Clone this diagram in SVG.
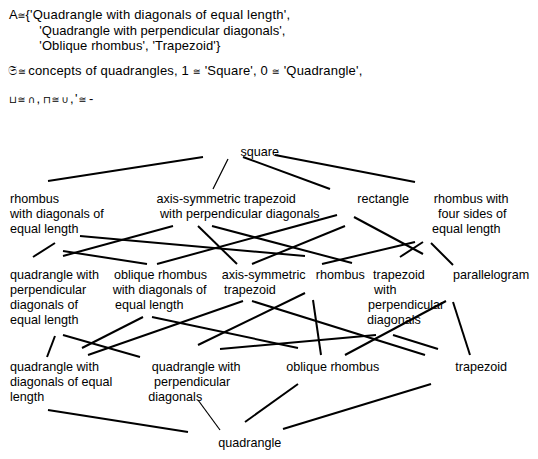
<svg xmlns="http://www.w3.org/2000/svg" width="538" height="459" viewBox="0 0 538 459">
<style>
text{font-family:"Liberation Sans",Arial,"DejaVu Sans",sans-serif;font-size:12.6px;fill:#000}
#header text{font-size:13px}
#header .s{font-family:"DejaVu Sans","Liberation Sans",sans-serif;font-size:10px}
#header .f{font-family:"DejaVu Sans","Liberation Sans",sans-serif;font-size:12.5px}
#header .e{font-family:"DejaVu Sans","Liberation Sans",sans-serif;font-size:9.5px}
.c line{stroke:#000;stroke-width:2;stroke-linecap:butt}
.c line.th{stroke-width:1.2}
</style>
<rect width="538" height="459" fill="#fff"/>
<g id="header">
<text x="9" y="19">A</text><text class="e" x="17.5" y="19">≅</text><text x="25.5" y="19" textLength="264.5">{'Quadrangle with diagonals of equal length',</text>
<text x="39.3" y="34.5" textLength="246">'Quadrangle with perpendicular diagonals',</text>
<text x="39.3" y="49.5" textLength="181">'Oblique rhombus', 'Trapezoid'}</text>
<text class="f" x="8" y="75">𝔖</text><text class="e" x="18" y="75">≅</text><text x="28.3" y="75" textLength="334">concepts of quadrangles, 1 <tspan class="e">≅</tspan> 'Square', 0 <tspan class="e">≅</tspan> 'Quadrangle',</text>
<text class="s" x="9" y="103">⊔</text><text class="e" x="17.5" y="103">≅</text><text class="s" x="28" y="103">∩</text><text x="36.5" y="103">,</text><text class="s" x="43" y="103">⊓</text><text class="e" x="51.5" y="103">≅</text><text class="s" x="61.5" y="103">∪</text><text x="70" y="103">,</text><text x="75" y="103">'</text><text class="e" x="78.5" y="103">≅</text><text x="89" y="103">-</text>
</g>
<g id="connectors" class="c">
<line x1="203" y1="157" x2="48" y2="181"/>
<line class="th" x1="228" y1="159" x2="213" y2="189"/>
<line x1="243" y1="157" x2="330" y2="189"/>
<line x1="275" y1="155" x2="415" y2="182"/>
<line x1="80" y1="236" x2="305" y2="256"/>
<line x1="33" y1="257" x2="55" y2="243"/>
<line x1="63" y1="251" x2="147" y2="264"/>
<line x1="63" y1="256" x2="173" y2="226"/>
<line x1="157" y1="264" x2="337" y2="215"/>
<line x1="198" y1="226" x2="237" y2="264"/>
<line x1="212" y1="226" x2="352" y2="263"/>
<line x1="252" y1="264" x2="345" y2="226"/>
<line x1="354" y1="217" x2="423" y2="254"/>
<line x1="322" y1="264" x2="415" y2="242"/>
<line x1="400" y1="257" x2="423" y2="242"/>
<line x1="431" y1="243" x2="453" y2="265"/>
<line x1="55" y1="336" x2="47" y2="357"/>
<line x1="63" y1="335" x2="140" y2="357"/>
<line x1="82" y1="348" x2="143" y2="317"/>
<line x1="88" y1="355" x2="243" y2="301"/>
<line x1="152" y1="317" x2="298" y2="348"/>
<line x1="198" y1="345" x2="305" y2="293"/>
<line x1="220" y1="349" x2="376" y2="335"/>
<line x1="252" y1="301" x2="425" y2="355"/>
<line x1="313" y1="300" x2="321" y2="355"/>
<line x1="345" y1="355" x2="446" y2="301"/>
<line x1="393" y1="335" x2="438" y2="349"/>
<line x1="453" y1="302" x2="470" y2="355"/>
<line x1="48" y1="410" x2="188" y2="432"/>
<line class="th" x1="198" y1="400" x2="220" y2="430"/>
<line x1="245" y1="422" x2="298" y2="384"/>
<line x1="283" y1="429" x2="431" y2="384"/>
</g>
<g id="n-square"><text x="240.5" y="156">square</text></g>
<g id="n-rhombus-diag"><text x="10" y="203">rhombus</text><text x="10" y="218">with diagonals of</text><text x="10" y="233">equal length</text></g>
<g id="n-axis-perp"><text x="156.5" y="203">axis-symmetric trapezoid</text><text x="160" y="218">with perpendicular diagonals</text></g>
<g id="n-rectangle"><text x="357.3" y="203">rectangle</text></g>
<g id="n-rhombus-four"><text x="433.7" y="203">rhombus with</text><text x="438" y="218">four sides of</text><text x="432" y="233">equal length</text></g>
<g id="n-quad-perp-eq"><text x="10" y="279">quadrangle with</text><text x="10" y="294">perpendicular</text><text x="10" y="309">diagonals of</text><text x="10" y="324">equal length</text></g>
<g id="n-oblique-diag"><text x="114" y="279">oblique rhombus</text><text x="112.7" y="294">with diagonals of</text><text x="115" y="309">equal length</text></g>
<g id="n-axis"><text x="221.7" y="279">axis-symmetric</text><text x="224" y="294">trapezoid</text></g>
<g id="n-rhombus"><text x="315.7" y="279">rhombus</text></g>
<g id="n-trap-perp"><text x="373" y="279">trapezoid</text><text x="374" y="294">with</text><text x="368" y="309">perpendicular</text><text x="367" y="324">diagonals</text></g>
<g id="n-parallelogram"><text x="453" y="279">parallelogram</text></g>
<g id="n-quad-diag"><text x="10" y="371">quadrangle with</text><text x="10" y="386">diagonals of equal</text><text x="10" y="401">length</text></g>
<g id="n-quad-perp"><text x="151.7" y="371">quadrangle with</text><text x="154" y="386">perpendicular</text><text x="148.3" y="401">diagonals</text></g>
<g id="n-oblique"><text x="286.3" y="371">oblique rhombus</text></g>
<g id="n-trapezoid"><text x="455.3" y="371">trapezoid</text></g>
<g id="n-quadrangle"><text x="218.3" y="447">quadrangle</text></g>
</svg>
